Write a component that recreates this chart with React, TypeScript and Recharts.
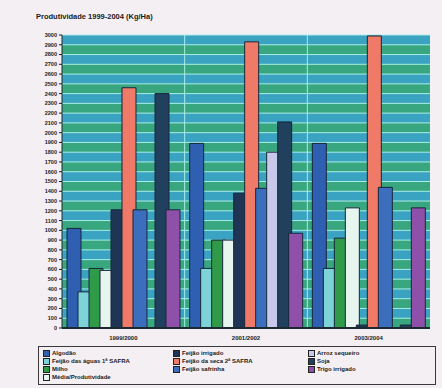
import { BarChart, Bar, XAxis, YAxis, CartesianGrid } from "recharts";

const safras = ["1999/2000", "2001/2002", "2003/2004"];

const culturas = [
  "Algodão",
  "Feijão das águas 1ª SAFRA",
  "Milho",
  "Média/Produtividade",
  "Feijão irrigado",
  "Feijão da seca 2ª SAFRA",
  "Feijão safrinha",
  "Arroz sequeiro",
  "Soja",
  "Trigo irrigado",
];

const cores = [
  "#2f5fb0",
  "#7dd3d8",
  "#2f9a48",
  "#e6f5ee",
  "#1f3556",
  "#f07a68",
  "#3b6fbe",
  "#c8c8ea",
  "#20405e",
  "#8e50a8",
];

// kg/ha per safra, one array per cultura
const valores = [
  [1020, 1890, 1890],
  [370, 610, 610],
  [610, 900, 920],
  [590, 900, 1230],
  [1210, 1380, 30],
  [2460, 2930, 2990],
  [1210, 1430, 1440],
  [0, 1800, 0],
  [2400, 2110, 30],
  [1210, 970, 1230],
];

const ticks = Array.from({ length: 31 }, (_, i) => i * 100);

const data = safras.map((s, i) => {
  const row: Record<string, string | number> = { safra: s };
  culturas.forEach((c, j) => {
    row[c] = valores[j][i];
  });
  return row;
});

const legendCols = [culturas.slice(0, 4), culturas.slice(4, 7), culturas.slice(7)];

export default function App() {
  return (
    <div
      style={{
        position: "absolute",
        left: 0,
        top: 0,
        width: 442,
        height: 388,
        background: "#f4eff3",
        fontFamily: "Arial, 'Liberation Sans', sans-serif",
      }}
    >
      <div
        style={{
          position: "absolute",
          left: 36,
          top: 12,
          fontSize: 7.5,
          fontWeight: 700,
          color: "#1a1a1a",
        }}
      >
        Produtividade 1999-2004 (Kg/Ha)
      </div>

      <BarChart
        width={442}
        height={345}
        data={data}
        margin={{ top: 35, right: 12, bottom: 0, left: 35 }}
        barCategoryGap={5}
        barGap={-3}
      >
        <CartesianGrid
          stroke="#a8eee6"
          strokeWidth={1}
          horizontalFill={["#3aa3c2", "#38a67e"]}
          verticalCoordinatesGenerator={({ offset }: any) => [
            offset.left + offset.width / 3,
            offset.left + (2 * offset.width) / 3,
          ]}
        />
        <XAxis
          dataKey="safra"
          height={17}
          tick={{ fontSize: 6, fontWeight: 700, fill: "#1a1a1a" }}
          tickLine={false}
          axisLine={{ stroke: "#1a2a30", strokeWidth: 2 }}
        />
        <YAxis
          width={27}
          domain={[0, 3000]}
          ticks={ticks}
          interval={0}
          tick={{ fontSize: 5.5, fontWeight: 700, fill: "#1a1a1a" }}
          tickSize={3}
          tickLine={{ stroke: "#1a1a1a" }}
          axisLine={{ stroke: "#1a2a30", strokeWidth: 1 }}
        />
        {culturas.map((c, j) => (
          <Bar
            key={c}
            dataKey={c}
            fill={cores[j]}
            stroke="#17263a"
            strokeWidth={1}
            isAnimationActive={false}
          />
        ))}
      </BarChart>

      <div
        style={{
          position: "absolute",
          left: 38,
          top: 346,
          width: 398,
          height: 39,
          border: "1px solid #3a3a3a",
          boxSizing: "border-box",
          display: "flex",
          padding: "2px 4px",
          fontSize: 6,
          fontWeight: 700,
          color: "#1a1a1a",
          lineHeight: "8px",
        }}
      >
        {legendCols.map((col, ci) => (
          <div key={ci} style={{ width: ci === 0 ? 130 : ci === 1 ? 135 : 120 }}>
            {col.map((c) => (
              <div key={c} style={{ display: "flex", alignItems: "center", gap: 2 }}>
                <span
                  style={{
                    width: 5,
                    height: 5,
                    background: cores[culturas.indexOf(c)],
                    border: "0.5px solid #222",
                    display: "inline-block",
                  }}
                />
                <span>{c}</span>
              </div>
            ))}
          </div>
        ))}
      </div>
    </div>
  );
}
